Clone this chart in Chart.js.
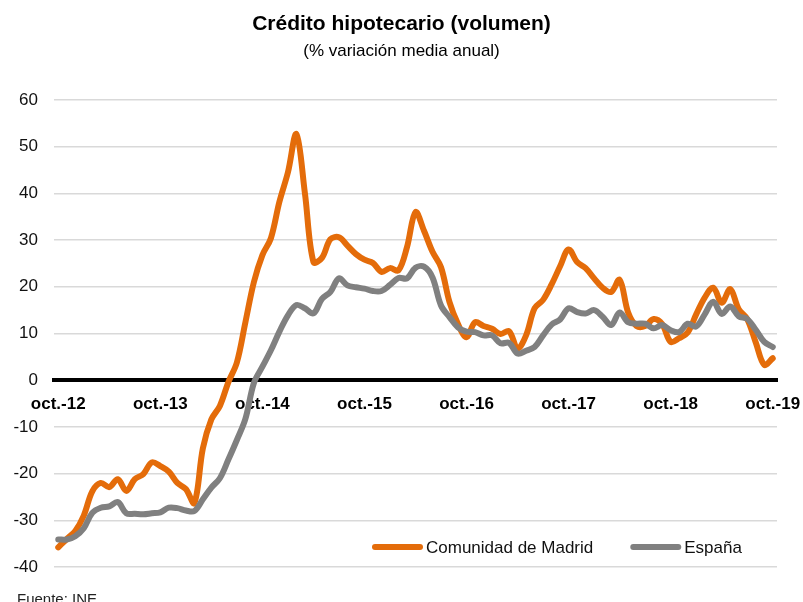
<!DOCTYPE html>
<html>
<head>
<meta charset="utf-8">
<script src="https://cdn.jsdelivr.net/npm/chart.js@4.4.1/dist/chart.umd.min.js"></script>
<style>
  html, body { margin: 0; padding: 0; background: #ffffff; }
  #wrap { width: 803px; height: 602px; position: relative; }
</style>
</head>
<body>
<div id="wrap"><canvas id="c" width="803" height="602"></canvas></div>
<script>
// ---- Data ----
const categories = [
  'oct.-12','nov.-12','dic.-12',
  'ene.-13','feb.-13','mar.-13','abr.-13','may.-13','jun.-13','jul.-13','ago.-13','sep.-13','oct.-13','nov.-13','dic.-13',
  'ene.-14','feb.-14','mar.-14','abr.-14','may.-14','jun.-14','jul.-14','ago.-14','sep.-14','oct.-14','nov.-14','dic.-14',
  'ene.-15','feb.-15','mar.-15','abr.-15','may.-15','jun.-15','jul.-15','ago.-15','sep.-15','oct.-15','nov.-15','dic.-15',
  'ene.-16','feb.-16','mar.-16','abr.-16','may.-16','jun.-16','jul.-16','ago.-16','sep.-16','oct.-16','nov.-16','dic.-16',
  'ene.-17','feb.-17','mar.-17','abr.-17','may.-17','jun.-17','jul.-17','ago.-17','sep.-17','oct.-17','nov.-17','dic.-17',
  'ene.-18','feb.-18','mar.-18','abr.-18','may.-18','jun.-18','jul.-18','ago.-18','sep.-18','oct.-18','nov.-18','dic.-18',
  'ene.-19','feb.-19','mar.-19','abr.-19','may.-19','jun.-19','jul.-19','ago.-19','sep.-19','oct.-19'
];
const tickLabels = ['oct.-12','oct.-13','oct.-14','oct.-15','oct.-16','oct.-17','oct.-18','oct.-19'];

const madrid = [
  -35.8, -34.0, -32.3, -29.0, -23.8, -22.0, -22.9, -21.2, -23.7, -21.2,
  -20.1, -17.6, -18.4, -19.6, -22.0, -23.3, -26.3, -14.6, -8.4, -5.5,
  -0.4, 3.8, 12.4, 21.0, 26.8, 30.4, 38.2, 44.5, 52.7, 40.0,
  25.3, 26.2, 30.2, 30.6, 28.8, 27.0, 25.8, 25.1, 23.2, 24.0,
  23.5, 28.5, 36.0, 32.0, 27.5, 24.2, 16.7, 12.0, 9.2, 12.4,
  11.6, 11.0, 9.9, 10.5, 6.8, 9.6, 15.4, 17.2, 20.5, 24.4,
  28.0, 25.3, 24.0, 21.8, 19.8, 18.9, 21.5, 14.5, 11.6, 11.6,
  13.1, 12.0, 8.2, 9.0, 10.2, 14.1, 17.7, 19.8, 16.6, 19.5,
  15.2, 13.1, 8.1, 3.3, 4.7
];
const espana = [
  -34.1, -34.1, -33.4, -31.7, -28.4, -27.3, -27.0, -26.1, -28.5, -28.6,
  -28.7, -28.5, -28.3, -27.3, -27.4, -27.9, -28.0, -25.5, -23.0, -21.0,
  -17.0, -12.8, -8.3, -0.6, 2.9, 6.4, 10.4, 13.9, 16.1, 15.4,
  14.3, 17.4, 18.9, 21.8, 20.3, 19.9, 19.6, 19.1, 19.1, 20.4,
  21.9, 21.8, 24.1, 24.3, 22.0, 16.0, 13.5, 11.3, 10.4, 10.3,
  9.6, 9.6, 7.9, 8.0, 5.7, 6.3, 7.1, 9.6, 11.9, 13.0,
  15.4, 14.6, 14.3, 15.0, 13.6, 11.8, 14.5, 12.4, 12.1, 12.1,
  11.1, 11.8, 10.7, 10.3, 12.1, 11.5, 14.1, 16.8, 14.2, 15.8,
  13.7, 13.1, 10.8, 8.2, 7.1
];
const seriesNames = ['Comunidad de Madrid', 'España'];
const sourceText = 'Fuente: INE.';

// ---- Styling ----
const FONT = "'Liberation Sans', Arial, Helvetica, sans-serif";
const ORANGE = '#E46C0A';
const GREY = '#808080';

const legendPlugin = {
  id: 'customLegend',
  afterDraw(chart) {
    const ctx = chart.ctx;
    const a = chart.chartArea;
    ctx.save();
    ctx.font = '17px ' + FONT;
    ctx.textBaseline = 'middle';
    ctx.textAlign = 'left';
    let x = 372;
    const y = a.bottom - 20;
    chart.data.datasets.forEach(ds => {
      ctx.strokeStyle = ds.borderColor;
      ctx.lineWidth = 6;
      ctx.lineCap = 'round';
      ctx.beginPath();
      ctx.moveTo(x + 3, y);
      ctx.lineTo(x + 48, y);
      ctx.stroke();
      ctx.fillStyle = '#111';
      ctx.fillText(ds.label, x + 54, y + 1);
      x = x + 54 + ctx.measureText(ds.label).width + 37;
    });
    ctx.font = '15px ' + FONT;
    ctx.textBaseline = 'top';
    ctx.fillStyle = '#222';
    ctx.fillText(sourceText, 17, 592);
    ctx.restore();
  }
};

new Chart(document.getElementById('c'), {
  type: 'line',
  data: {
    labels: categories,
    datasets: [
      { label: seriesNames[0], data: madrid, borderColor: ORANGE, backgroundColor: ORANGE,
        borderWidth: 6, pointRadius: 0, tension: 0.35, borderCapStyle: 'round', borderJoinStyle: 'round', order: 1 },
      { label: seriesNames[1], data: espana, borderColor: GREY, backgroundColor: GREY,
        borderWidth: 6, pointRadius: 0, tension: 0.35, borderCapStyle: 'round', borderJoinStyle: 'round', order: 0 }
    ]
  },
  options: {
    responsive: false,
    animation: false,
    devicePixelRatio: 1,
    layout: { padding: { top: 0, left: 0, right: 0, bottom: 35 } },
    plugins: {
      legend: { display: false },
      tooltip: { enabled: false },
      title: {
        display: true, text: 'Crédito hipotecario (volumen)', color: '#000',
        font: { family: FONT, size: 21, weight: 'bold' },
        padding: { top: 12, bottom: 0 }
      },
      subtitle: {
        display: true, text: '(% variación media anual)', color: '#000',
        font: { family: FONT, size: 17 },
        padding: { top: 4, bottom: 38.4 }
      }
    },
    scales: {
      x: {
        type: 'category',
        position: { y: 0 },
        offset: true,
        grid: { display: false, drawTicks: false },
        border: { display: true, color: '#000', width: 4 },
        ticks: {
          autoSkip: false, maxRotation: 0, minRotation: 0, padding: 14,
          color: '#000', font: { family: FONT, size: 17, weight: 'bold' },
          callback: function(v, i) {
            const l = this.getLabelForValue(v);
            return tickLabels.includes(l) ? l : '';
          }
        },
        afterFit(scale) { scale.paddingLeft = 0; scale.paddingRight = 0; }
      },
      y: {
        min: -40, max: 60,
        grid: { color: '#D9D9D9', lineWidth: 1.5, drawTicks: false },
        border: { display: false },
        ticks: {
          stepSize: 10, padding: 16, color: '#111',
          font: { family: FONT, size: 17 }
        },
        afterFit(scale) { scale.width = 54; }
      },
      yRightSpace: {
        position: 'right',
        min: -40, max: 60,
        grid: { display: false, drawTicks: false },
        border: { display: false },
        ticks: { display: false },
        afterFit(scale) { scale.width = 26; }
      }
    }
  },
  plugins: [legendPlugin]
});
</script>
</body>
</html>
